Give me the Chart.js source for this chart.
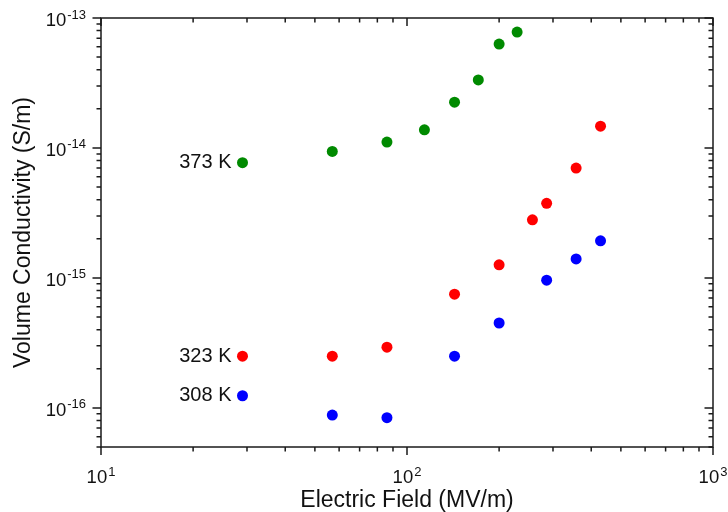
<!DOCTYPE html>
<html>
<head>
<meta charset="utf-8">
<script src="https://cdn.jsdelivr.net/npm/chart.js@4.4.1/dist/chart.umd.min.js"></script>
<style>
  body { margin: 0; background: #fff; }
</style>
</head>
<body>
<canvas id="miCanvas" width="728" height="512"></canvas>
<script>
// datos
const series = ["373 K", "323 K", "308 K"];
const colores = ["#008a00", "#ff0000", "#0000ff"];

const campo373 = [29, 57, 86, 114, 143, 171, 200, 229];
const cond373 = [7.7e-15, 9.4e-15, 1.11e-14, 1.38e-14, 2.25e-14, 3.34e-14, 6.3e-14, 7.8e-14];

const campo323 = [29, 57, 86, 143, 200, 257, 286, 357, 429];
const cond323 = [2.5e-16, 2.5e-16, 2.93e-16, 7.5e-16, 1.26e-15, 2.8e-15, 3.75e-15, 7.0e-15, 1.47e-14];

const campo308 = [29, 57, 86, 143, 200, 286, 357, 429];
const cond308 = [1.24e-16, 8.8e-17, 8.4e-17, 2.5e-16, 4.5e-16, 9.6e-16, 1.4e-15, 1.93e-15];

// limites de los ejes
const xMin = 10, xMax = 1000;
const yMin = 5e-17, yMax = 1e-13;

const fuente = "'Liberation Sans', Arial, Helvetica, sans-serif";

function puntos(xs, ys) {
  return xs.map((v, i) => ({ x: v, y: ys[i] }));
}

// ticks 1..9 por decada
function ticksLog(scale) {
  const lo = scale.min, hi = scale.max;
  const t = [];
  for (let e = Math.floor(Math.log10(lo)); e <= Math.ceil(Math.log10(hi)); e++) {
    for (let m = 1; m <= 9; m++) {
      const v = m * Math.pow(10, e);
      if (v >= lo * (1 - 1e-9) && v <= hi * (1 + 1e-9)) t.push({ value: v, major: m === 1 });
    }
  }
  scale.ticks = t;
}

// "10" con exponente en superindice
function potencia(ctx, value, x, y, align) {
  const exp = String(Math.round(Math.log10(value)));
  ctx.font = "18.5px " + fuente;
  const wb = ctx.measureText("10").width;
  ctx.font = "13px " + fuente;
  const we = ctx.measureText(exp).width;
  const x0 = align === "right" ? x - wb - we - 1 : x - (wb + we + 1) / 2;
  ctx.textAlign = "left";
  ctx.textBaseline = "alphabetic";
  ctx.font = "18.5px " + fuente;
  ctx.fillText("10", x0, y);
  ctx.font = "13px " + fuente;
  ctx.fillText(exp, x0 + wb + 1, y - 7.5);
}

// marco con ticks en los cuatro lados
const marco = {
  id: "marco",
  afterDraw(chart) {
    const { ctx, chartArea: a, scales } = chart;
    ctx.save();
    ctx.strokeStyle = "#1a1a1a";
    ctx.lineWidth = 1.5;
    ctx.strokeRect(a.left, a.top, a.right - a.left, a.bottom - a.top);
    ctx.beginPath();
    scales.x.ticks.forEach(t => {
      const px = scales.x.getPixelForValue(t.value);
      const l = t.major ? 8 : 4.5;
      ctx.moveTo(px, a.bottom); ctx.lineTo(px, a.bottom + l);
      ctx.moveTo(px, a.top); ctx.lineTo(px, a.top + l);
    });
    scales.y.ticks.forEach(t => {
      const py = scales.y.getPixelForValue(t.value);
      const l = t.major ? 8.5 : 4.5;
      ctx.moveTo(a.left - l, py); ctx.lineTo(a.left, py);
      ctx.moveTo(a.right - l, py); ctx.lineTo(a.right, py);
    });
    ctx.stroke();

    ctx.fillStyle = "#111";
    scales.x.ticks.filter(t => t.major).forEach(t => {
      potencia(ctx, t.value, scales.x.getPixelForValue(t.value), a.bottom + 36, "center");
    });
    scales.y.ticks.filter(t => t.major).forEach(t => {
      potencia(ctx, t.value, a.left - 15, scales.y.getPixelForValue(t.value) + 8, "right");
    });
    ctx.restore();
  },
  afterDatasetsDraw(chart) {
    const ctx = chart.ctx;
    ctx.save();
    ctx.font = "20px " + fuente;
    ctx.fillStyle = "#111";
    ctx.textAlign = "right";
    ctx.textBaseline = "middle";
    chart.data.datasets.forEach((ds, i) => {
      const p = chart.getDatasetMeta(i).data[0];
      ctx.fillText(ds.label, p.x - 11, p.y);
    });
    ctx.restore();
  }
};

const ctx = document.getElementById("miCanvas");

const myChart = new Chart(ctx, {
  type: "scatter",
  data: {
    datasets: [
      { label: series[0], data: puntos(campo373, cond373), backgroundColor: colores[0] },
      { label: series[1], data: puntos(campo323, cond323), backgroundColor: colores[1] },
      { label: series[2], data: puntos(campo308, cond308), backgroundColor: colores[2] },
    ],
  },
  options: {
    responsive: false,
    animation: false,
    layout: { padding: { top: 18, right: 15, left: 0, bottom: 0 } },
    elements: { point: { radius: 5.5, borderWidth: 0, hoverRadius: 5.5 } },
    scales: {
      x: {
        type: "logarithmic",
        min: xMin,
        max: xMax,
        afterBuildTicks: ticksLog,
        afterFit(scale) {
          scale.height = 65;
          scale.paddingLeft = 0;
          scale.paddingRight = 0;
        },
        grid: { display: false, drawTicks: false },
        border: { display: false },
        ticks: { display: false, autoSkip: false, maxRotation: 0 },
        title: {
          display: true,
          text: "Electric Field (MV/m)",
          color: "#111",
          font: { family: fuente, size: 23, lineHeight: 1 },
          padding: { top: 0, bottom: 0 },
        },
      },
      y: {
        type: "logarithmic",
        min: yMin,
        max: yMax,
        afterBuildTicks: ticksLog,
        afterFit(scale) {
          scale.width = 101;
          scale.paddingTop = 0;
          scale.paddingBottom = 0;
        },
        grid: { display: false, drawTicks: false },
        border: { display: false },
        ticks: { display: false, autoSkip: false },
        title: {
          display: true,
          text: "Volume Conductivity (S/m)",
          color: "#111",
          font: { family: fuente, size: 23, lineHeight: 1 },
          padding: { top: 12, bottom: 0 },
        },
      },
    },
    plugins: {
      legend: { display: false },
      tooltip: { enabled: false },
    },
  },
  plugins: [marco],
});
</script>
</body>
</html>
